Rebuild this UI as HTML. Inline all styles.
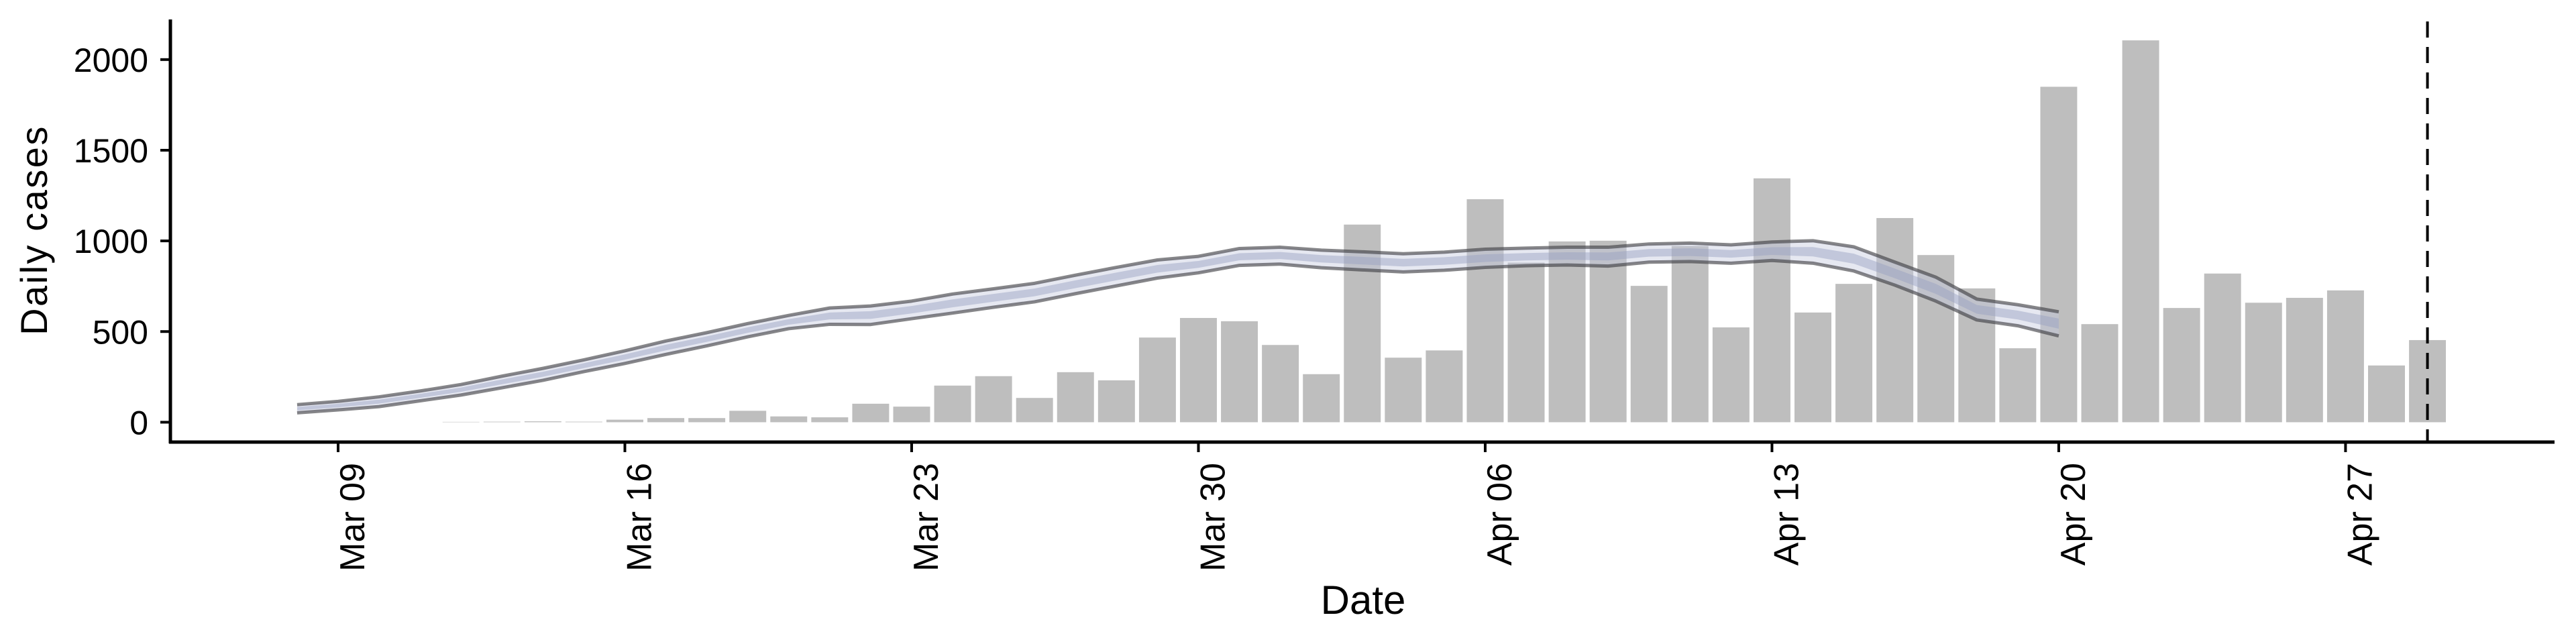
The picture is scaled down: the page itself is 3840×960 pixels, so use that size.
<!DOCTYPE html>
<html><head><meta charset="utf-8"><style>
html,body{margin:0;padding:0;background:#fff;}
svg{display:block;font-family:"Liberation Sans",Arial,sans-serif;}
</style></head><body>
<svg id="chart" width="3840" height="960" viewBox="0 0 3840 960" xmlns="http://www.w3.org/2000/svg">
<g id="bars"></g>
<g id="band"></g>
<g id="axes"></g>
</svg>
<script>
// Day index 0 = Mar 09
const barDays = [3,4,5,6,7,8,9,10,11,12,13,14,15,16,17,18,19,20,21,22,23,24,25,26,27,28,29,30,31,32,33,34,35,36,37,38,39,40,41,42,43,44,45,46,47,48,49,50,51];
const barValues = [2,3,5,3,14,23,23,63,32,27,102,86,202,254,134,276,231,467,575,557,426,265,1090,356,396,1230,880,997,1001,752,972,523,1345,605,763,1126,922,738,408,1850,541,2106,630,820,659,686,727,313,453];
const bandDays = [-1,0,1,2,3,4,5,6,7,8,9,10,11,12,13,14,15,16,17,18,19,20,21,22,23,24,25,26,27,28,29,30,31,32,33,34,35,36,37,38,39,40,41,42];
const bandUpper = [97,115,140,172,208,254,297,344,394,448,494,544,589,630,641,668,707,736,766,811,854,895,915,958,965,949,940,929,938,954,960,965,965,983,988,978,994,1001,967,883,800,679,648,609];
const bandLower = [52,68,86,118,150,190,231,279,324,374,421,471,516,540,539,571,602,634,664,709,752,795,824,865,872,852,840,829,838,854,863,867,861,883,886,877,892,877,834,756,668,564,532,476];
const yTicks = [0,500,1000,1500,2000];
const xTickDays = [0,7,14,21,28,35,42,49];
const xTickLabels = ["Mar 09","Mar 16","Mar 23","Mar 30","Apr 06","Apr 13","Apr 20","Apr 27"];
const vlineDay = 51;

const NS="http://www.w3.org/2000/svg";
const X0=504, DAY=61.07, Y0=629.4, PPU=0.2703;
const xs=d=>X0+d*DAY;
const ys=v=>Y0-v*PPU;
function mk(tag,attrs,parent){const e=document.createElementNS(NS,tag);for(const k in attrs)e.setAttribute(k,attrs[k]);parent.appendChild(e);return e;}
const gBars=document.getElementById('bars'),gBand=document.getElementById('band'),gAx=document.getElementById('axes');

barDays.forEach((d,i)=>{
  const w=DAY*0.9, v=barValues[i];
  const r=mk('rect',{x:xs(d)-w/2,y:ys(v),width:w,height:Math.max(0.5,Y0-ys(v)),fill:'#bebebe'},gBars);
  
  
});

function poly(fa,fb){let p=[];bandDays.forEach((d,i)=>p.push(xs(d)+','+ys(fa(i))));for(let i=bandDays.length-1;i>=0;i--)p.push(xs(bandDays[i])+','+ys(fb(i)));return p.join(' ');}
const outer=mk('polygon',{points:poly(i=>bandUpper[i],i=>bandLower[i]),fill:'rgba(195,200,222,0.42)'},gBand);


const inner=mk('polygon',{points:poly(i=>bandLower[i]+(bandUpper[i]-bandLower[i])*0.72,i=>bandLower[i]+(bandUpper[i]-bandLower[i])*0.3),fill:'rgba(150,160,192,0.45)'},gBand);


function line(arr,name){const p=bandDays.map((d,i)=>xs(d)+','+ys(arr[i])).join(' ');const l=mk('polyline',{points:p,fill:'none',stroke:'rgba(60,60,65,0.62)','stroke-width':5,'stroke-linejoin':'round'},gBand);}
line(bandUpper,'upper-bound-line');
line(bandLower,'lower-bound-line');

const dl=mk('line',{x1:xs(vlineDay),x2:xs(vlineDay),y1:32,y2:659,stroke:'#000','stroke-width':4,'stroke-dasharray':'24,14'},gAx);



const ya=mk('line',{x1:254,x2:254,y1:29,y2:661,stroke:'#000','stroke-width':5},gAx);


const xa=mk('line',{x1:252,x2:3808,y1:659,y2:659,stroke:'#000','stroke-width':5},gAx);



yTicks.forEach(v=>{
  const t=mk('line',{x1:239,x2:254,y1:ys(v),y2:ys(v),stroke:'#000','stroke-width':4},gAx);
  
  
  const l=mk('text',{x:221,y:ys(v)+18,'text-anchor':'end','font-size':50,fill:'#000'},gAx);
  l.textContent=v;
  
  
});
xTickDays.forEach((d,i)=>{
  const x=xs(d);
  const t=mk('line',{x1:x,x2:x,y1:659,y2:674,stroke:'#000','stroke-width':4},gAx);
  
  
  const l=mk('text',{x:0,y:0,'text-anchor':'end','font-size':52,fill:'#000',transform:'translate('+(x+39)+',690) rotate(-90)'},gAx);
  l.textContent=xTickLabels[i];
  
  
});
const yt=mk('text',{x:0,y:0,'text-anchor':'middle','font-size':56,'letter-spacing':2.5,fill:'#000',transform:'translate(70,343) rotate(-90)'},gAx);
yt.textContent='Daily cases';


const xt=mk('text',{x:2032,y:915,'text-anchor':'middle','font-size':60,fill:'#000'},gAx);
xt.textContent='Date';


</script>
</body></html>
